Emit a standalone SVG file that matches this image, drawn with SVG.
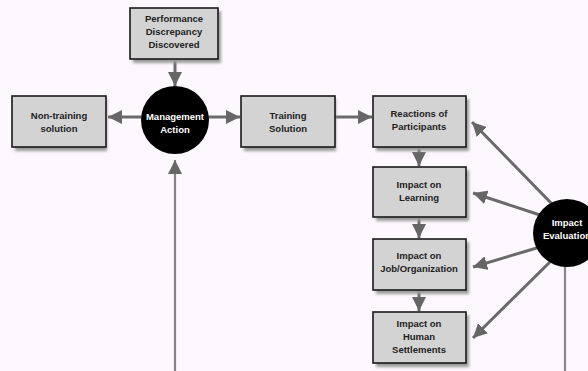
<svg xmlns="http://www.w3.org/2000/svg" width="588" height="371" viewBox="0 0 588 371">
  <style>
    .box { fill: #d3d3d3; stroke: #1a1a1a; stroke-width: 1.6; }
    .shadow { fill: #9a9a9a; filter: url(#soft); }
    .lbl { font-family: "Liberation Sans", Arial, sans-serif; font-weight: bold; font-size: 9.5px; fill: #222; text-anchor: middle; }
    .wlbl { font-family: "Liberation Sans", Arial, sans-serif; font-weight: bold; font-size: 9.5px; fill: #fff; text-anchor: middle; }
    .conn { stroke: #6a6a6a; stroke-width: 3; fill: none; marker-end: url(#head); }
    .thin { stroke: #858585; stroke-width: 2.2; fill: none; }
    .hub { fill: #000; }
  </style>
  <defs>
    <filter id="soft" x="-20%" y="-20%" width="140%" height="140%">
      <feGaussianBlur stdDeviation="1.6"/>
    </filter>
    <marker id="head" viewBox="0 0 10 10" refX="10" refY="5" markerWidth="14" markerHeight="14" markerUnits="userSpaceOnUse" orient="auto">
      <path d="M0,0 L10,5 L0,10 Z" fill="#666"/>
    </marker>
  </defs>

  <rect width="588" height="371" fill="#fdf8fd"/>

  <!-- connectors -->
  <g id="connectors">
    <line class="conn" x1="175" y1="60" x2="175" y2="86"/>
    <line class="conn" x1="150" y1="117" x2="108" y2="117"/>
    <line class="conn" x1="200" y1="117" x2="240" y2="117"/>
    <line class="conn" x1="335" y1="117" x2="372" y2="117"/>
    <line class="thin" x1="175" y1="371" x2="175" y2="160" marker-end="url(#head)"/>
    <line class="conn" x1="419" y1="147" x2="419" y2="166"/>
    <line class="conn" x1="419" y1="217" x2="419" y2="238"/>
    <line class="conn" x1="419" y1="290" x2="419" y2="311"/>
    <line class="conn" x1="552" y1="204" x2="472" y2="122"/>
    <line class="conn" x1="540" y1="215" x2="473" y2="193"/>
    <line class="conn" x1="540" y1="247" x2="473" y2="267"/>
    <line class="conn" x1="552" y1="260" x2="473" y2="338"/>
    <line class="thin" x1="565" y1="260" x2="565" y2="371"/>
  </g>

  <g id="performance">
    <rect class="shadow" x="133" y="11" width="88" height="52"/>
    <rect class="box" x="130" y="8" width="88" height="51"/>
    <text class="lbl" x="174" y="22">Performance</text>
    <text class="lbl" x="174" y="35">Discrepancy</text>
    <text class="lbl" x="174" y="48">Discovered</text>
  </g>

  <g id="non-training">
    <rect class="shadow" x="15" y="99" width="92" height="52"/>
    <rect class="box" x="12" y="96" width="94" height="51"/>
    <text class="lbl" x="59" y="119">Non-training</text>
    <text class="lbl" x="59" y="132">solution</text>
  </g>

  <g id="management">
    <circle class="hub" cx="175" cy="120" r="34"/>
    <text class="wlbl" x="175" y="120">Management</text>
    <text class="wlbl" x="175" y="133">Action</text>
  </g>

  <g id="training">
    <rect class="shadow" x="244" y="99" width="92" height="52"/>
    <rect class="box" x="241" y="96" width="94" height="51"/>
    <text class="lbl" x="288" y="119">Training</text>
    <text class="lbl" x="288" y="132">Solution</text>
  </g>

  <g id="reactions">
    <rect class="shadow" x="376" y="99" width="93" height="52"/>
    <rect class="box" x="373" y="96" width="93" height="51"/>
    <text class="lbl" x="419" y="117">Reactions of</text>
    <text class="lbl" x="419" y="130">Participants</text>
  </g>

  <g id="learning">
    <rect class="shadow" x="376" y="170" width="93" height="51"/>
    <rect class="box" x="373" y="167" width="93" height="50"/>
    <text class="lbl" x="419" y="188">Impact on</text>
    <text class="lbl" x="419" y="201">Learning</text>
  </g>

  <g id="job-organization">
    <rect class="shadow" x="376" y="242" width="93" height="52"/>
    <rect class="box" x="373" y="239" width="93" height="51"/>
    <text class="lbl" x="419" y="259">Impact on</text>
    <text class="lbl" x="419" y="272">Job/Organization</text>
  </g>

  <g id="human-settlements">
    <rect class="shadow" x="376" y="315" width="93" height="52"/>
    <rect class="box" x="373" y="312" width="93" height="51"/>
    <text class="lbl" x="419" y="327">Impact on</text>
    <text class="lbl" x="419" y="340">Human</text>
    <text class="lbl" x="419" y="353">Settlements</text>
  </g>

  <g id="impact-evaluation">
    <circle class="hub" cx="567" cy="233" r="34"/>
    <text class="wlbl" x="567" y="226">Impact</text>
    <text class="wlbl" x="567" y="239">Evaluation</text>
  </g>
</svg>
